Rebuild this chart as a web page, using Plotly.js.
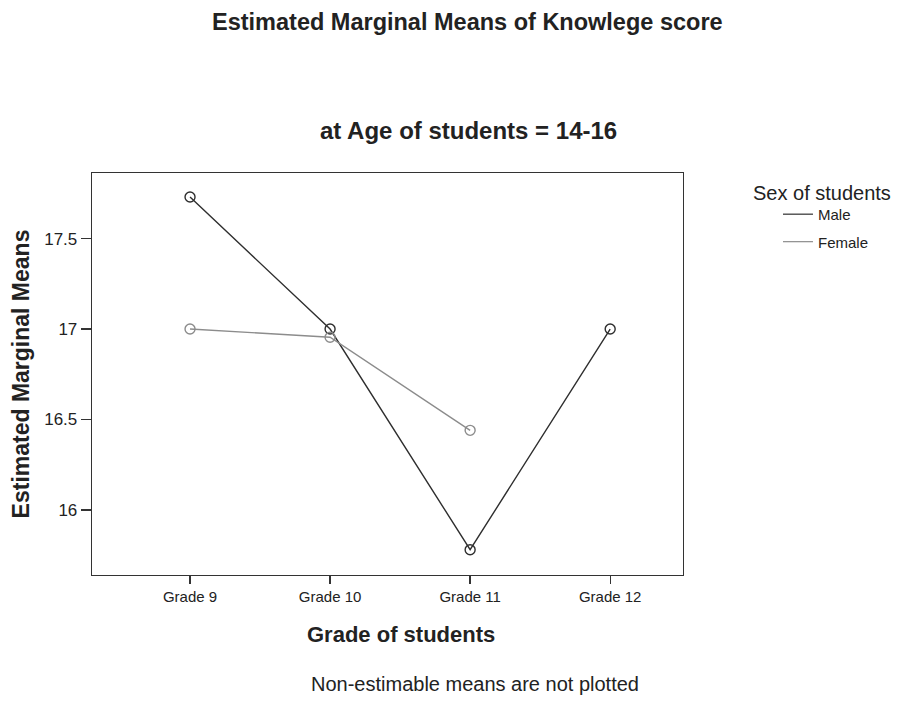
<!DOCTYPE html>
<html>
<head>
<meta charset="utf-8">
<script src="https://cdn.plot.ly/plotly-3.0.1.min.js"></script>
<style>html,body{margin:0;padding:0;background:#fff;}#chart{width:898px;height:701px;}</style>
</head>
<body>
<div id="chart"></div>
<script>
const grades = ["Grade 9", "Grade 10", "Grade 11", "Grade 12"];
const maleMeans = [17.73, 17.0, 15.78, 17.0];
const femaleMeans = [17.0, 16.955, 16.44, null];
const yTicks = [16, 16.5, 17, 17.5];
const yTickLabels = ["16", "16.5", "17", "17.5"];

const FONT = "Liberation Sans, Arial, sans-serif";
const maleColor = "#2e2e2e";
const femaleColor = "#8c8c8c";

const traces = [
  {x: grades, y: maleMeans, mode: "lines+markers", showlegend: false,
   line: {color: maleColor, width: 1.4},
   marker: {symbol: "circle-open", size: 10, color: maleColor, line: {width: 1.4}}},
  {x: grades, y: femaleMeans, mode: "lines+markers", showlegend: false, connectgaps: false,
   line: {color: femaleColor, width: 1.4},
   marker: {symbol: "circle-open", size: 10, color: femaleColor, line: {width: 1.4}}},
  {x: [null], y: [null], mode: "lines", name: "Male", legendgroup: "m", line: {color: maleColor, width: 1.2}},
  {x: [null], y: [null], mode: "lines", name: "Female", legendgroup: "f", line: {color: femaleColor, width: 1.2}}
];

const layout = {
  width: 898, height: 701,
  margin: {l: 92, r: 215, t: 173, b: 126},
  paper_bgcolor: "#fff", plot_bgcolor: "#fff",
  font: {family: FONT, color: "#222"},
  showlegend: true,
  legend: {x: 1.1607, y: 0.938, xanchor: "left", yanchor: "top",
           font: {size: 15, family: FONT, color: "#222"},
           tracegroupgap: 5, itemwidth: 30, bgcolor: "rgba(0,0,0,0)"},
  xaxis: {
    type: "category", categoryarray: grades,
    range: [-0.7, 3.52],
    showline: true, linecolor: "#333", linewidth: 1.3, mirror: true,
    ticks: "outside", ticklen: 8, tickcolor: "#333", tickwidth: 1.3,
    showgrid: false, zeroline: false,
    tickfont: {size: 15, family: FONT, color: "#222"}
  },
  yaxis: {
    range: [15.64, 17.863],
    tickvals: yTicks, ticktext: yTickLabels,
    showline: true, linecolor: "#333", linewidth: 1.3, mirror: true,
    ticks: "outside", ticklen: 10, tickcolor: "#333", tickwidth: 1.3,
    showgrid: false, zeroline: false,
    tickfont: {size: 17, family: FONT, color: "#222"},
    title: {text: "<b>Estimated Marginal Means</b>", font: {size: 23, family: FONT, color: "#222"}, standoff: 8}
  },
  annotations: [
    {text: "<b>Estimated Marginal Means of Knowlege score</b>", xref: "paper", yref: "paper",
     x: (467 - 92) / 591, y: 1 + (173 - 22) / 402, xanchor: "center", yanchor: "middle", showarrow: false,
     font: {size: 23.5, family: FONT, color: "#222"}},
    {text: "<b>at Age of students = 14-16</b>", xref: "paper", yref: "paper",
     x: (468.5 - 92) / 591, y: 1 + (173 - 130) / 402, xanchor: "center", yanchor: "middle", showarrow: false,
     font: {size: 24, family: FONT, color: "#222"}},
    {text: "<b>Grade of students</b>", xref: "paper", yref: "paper",
     x: (401 - 92) / 591, y: -(634 - 575) / 402, xanchor: "center", yanchor: "middle", showarrow: false,
     font: {size: 22, family: FONT, color: "#222"}},
    {text: "Sex of students", xref: "paper", yref: "paper",
     x: 1 + (751 - 683) / 591, y: 1 - (193 - 173) / 402, xanchor: "left", yanchor: "middle", showarrow: false,
     font: {size: 20, family: FONT, color: "#222"}},
    {text: "Non-estimable means are not plotted", xref: "paper", yref: "paper",
     x: (475 - 92) / 591, y: -(684 - 575) / 402, xanchor: "center", yanchor: "middle", showarrow: false,
     font: {size: 20, family: FONT, color: "#222"}}
  ]
};

Plotly.newPlot("chart", traces, layout, {displayModeBar: false, staticPlot: true});
</script>
</body>
</html>
